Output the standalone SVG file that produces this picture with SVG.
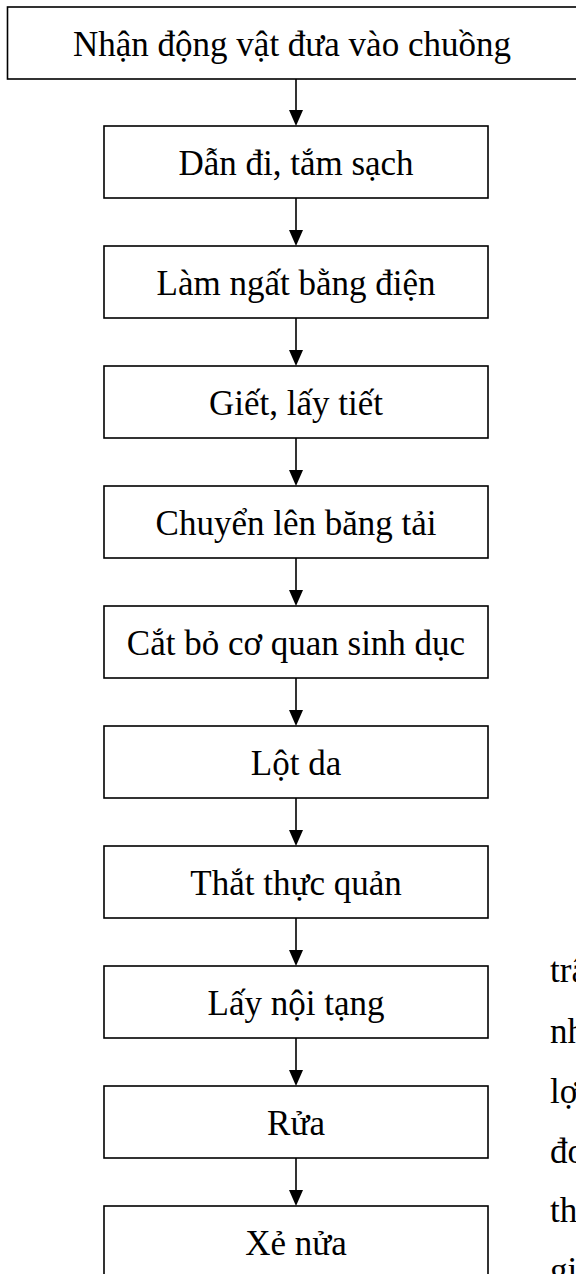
<svg xmlns="http://www.w3.org/2000/svg" width="576" height="1274" viewBox="0 0 576 1274">
  <style>
    .box { fill: #ffffff; stroke: #000000; stroke-width: 1.6; }
    .lbl { font-family: "Liberation Serif", "Times New Roman", serif; font-size: 35px; fill: #000000; text-anchor: middle; }
    .body { font-family: "Liberation Serif", "Times New Roman", serif; font-size: 35px; fill: #000000; }
    .link { stroke: #000000; stroke-width: 1.6; fill: none; }
    .head { fill: #000000; stroke: none; }
  </style>
  <rect width="576" height="1274" fill="#ffffff"/>

  <!-- process steps -->
  <g id="step-receive">
    <rect class="box" x="7.5" y="7" width="600" height="72"/>
    <text class="lbl" x="292" y="55.5">Nhận động vật đưa vào chuồng</text>
  </g>
  <g id="step-wash">
    <rect class="box" x="104" y="126" width="384" height="72"/>
    <text class="lbl" x="296" y="174.5">Dẫn đi, tắm sạch</text>
  </g>
  <g id="step-stun">
    <rect class="box" x="104" y="246" width="384" height="72"/>
    <text class="lbl" x="296" y="294.5">Làm ngất bằng điện</text>
  </g>
  <g id="step-bleed">
    <rect class="box" x="104" y="366" width="384" height="72"/>
    <text class="lbl" x="296" y="414.5">Giết, lấy tiết</text>
  </g>
  <g id="step-conveyor">
    <rect class="box" x="104" y="486" width="384" height="72"/>
    <text class="lbl" x="296" y="534.5">Chuyển lên băng tải</text>
  </g>
  <g id="step-genitals">
    <rect class="box" x="104" y="606" width="384" height="72"/>
    <text class="lbl" x="296" y="654.5">Cắt bỏ cơ quan sinh dục</text>
  </g>
  <g id="step-skin">
    <rect class="box" x="104" y="726" width="384" height="72"/>
    <text class="lbl" x="296" y="774.5">Lột da</text>
  </g>
  <g id="step-tie">
    <rect class="box" x="104" y="846" width="384" height="72"/>
    <text class="lbl" x="296" y="894.5">Thắt thực quản</text>
  </g>
  <g id="step-eviscerate">
    <rect class="box" x="104" y="966" width="384" height="72"/>
    <text class="lbl" x="296" y="1014.5">Lấy nội tạng</text>
  </g>
  <g id="step-rinse">
    <rect class="box" x="104" y="1086" width="384" height="72"/>
    <text class="lbl" x="296" y="1134.5">Rửa</text>
  </g>
  <g id="step-split">
    <rect class="box" x="104" y="1206" width="384" height="72"/>
    <text class="lbl" x="296" y="1254.5">Xẻ nửa</text>
  </g>

  <!-- connectors -->
  <g id="connectors">
    <line class="link" x1="296" y1="79" x2="296" y2="112"/>
    <polygon class="head" points="289,110 303,110 296,126"/>
    <line class="link" x1="296" y1="198" x2="296" y2="232"/>
    <polygon class="head" points="289,230 303,230 296,246"/>
    <line class="link" x1="296" y1="318" x2="296" y2="352"/>
    <polygon class="head" points="289,350 303,350 296,366"/>
    <line class="link" x1="296" y1="438" x2="296" y2="472"/>
    <polygon class="head" points="289,470 303,470 296,486"/>
    <line class="link" x1="296" y1="558" x2="296" y2="592"/>
    <polygon class="head" points="289,590 303,590 296,606"/>
    <line class="link" x1="296" y1="678" x2="296" y2="712"/>
    <polygon class="head" points="289,710 303,710 296,726"/>
    <line class="link" x1="296" y1="798" x2="296" y2="832"/>
    <polygon class="head" points="289,830 303,830 296,846"/>
    <line class="link" x1="296" y1="918" x2="296" y2="952"/>
    <polygon class="head" points="289,950 303,950 296,966"/>
    <line class="link" x1="296" y1="1038" x2="296" y2="1072"/>
    <polygon class="head" points="289,1070 303,1070 296,1086"/>
    <line class="link" x1="296" y1="1158" x2="296" y2="1192"/>
    <polygon class="head" points="289,1190 303,1190 296,1206"/>
  </g>

  <!-- running text at the right margin, clipped by the page edge -->
  <g id="margin-text">
    <text class="body" x="550" y="982">trâ</text>
    <text class="body" x="550" y="1043">nh</text>
    <text class="body" x="550" y="1103">lợ</text>
    <text class="body" x="550" y="1163">đo</text>
    <text class="body" x="550" y="1222">th</text>
    <text class="body" x="550" y="1282">gi</text>
  </g>
</svg>
